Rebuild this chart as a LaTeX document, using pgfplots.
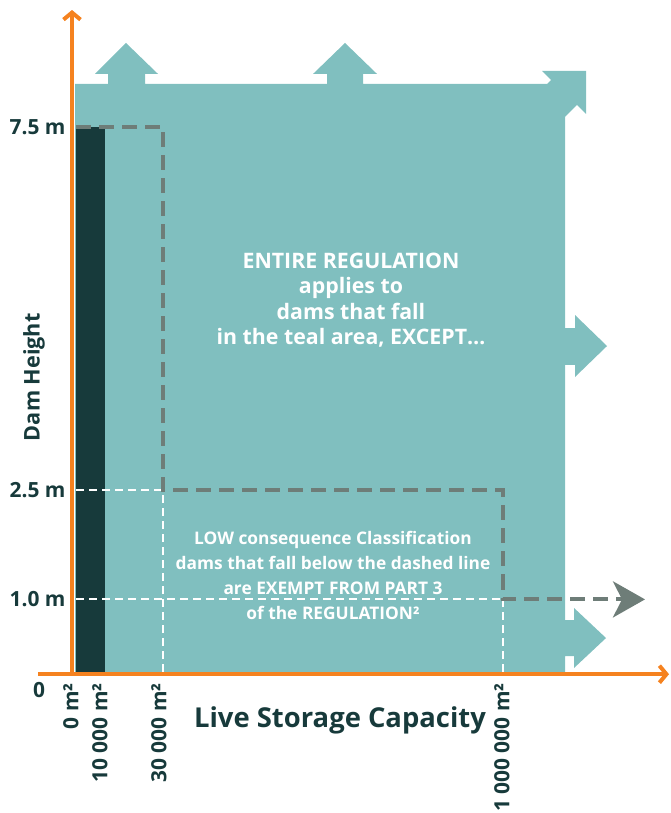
\documentclass[border=0pt]{standalone}
\usepackage{pgfplots}
\pgfplotsset{compat=1.18}
\usepackage{fontspec}
\setmainfont{Open Sans}
\usetikzlibrary{arrows.meta}

\definecolor{tealarea}{HTML}{80BFBF}
\definecolor{darkteal}{HTML}{173A3B}
\definecolor{axisorange}{HTML}{F5821F}
\definecolor{dashgray}{HTML}{6E7D78}

\begin{document}
\begin{tikzpicture}
\begin{axis}[
  x=1bp, y=72.6bp,
  xmin=-75, xmax=595, ymin=-1.942, ymax=9.256,
  hide axis, clip=false,
]
\coordinate (bl) at (axis cs:-75,-1.942);
\coordinate (tr) at (axis cs:595,9.256);

% teal area with the "extends" arrows
\addplot[fill=tealarea, draw=none] coordinates {
  (0,0) (0,8.099)
  (33,8.099) (33,8.237) (20,8.237) (51,8.664) (83,8.237) (70,8.237) (70,8.099)
  (252,8.099) (252,8.237) (238,8.237) (270,8.664) (302,8.237) (288,8.237) (288,8.099)
  (472,8.099) (476,8.154) (467,8.278) (511,8.278) (511,7.686) (502,7.810) (490,7.645)
  (490,4.738) (500,4.738) (500,4.917) (532,4.490) (500,4.063) (500,4.229) (490,4.229)
  (490,0.716) (499,0.716) (499,0.882) (531,0.468) (499,0.055) (499,0.220) (490,0.220)
  (490,0)
} -- cycle;

% 0 - 10 000 m2, up to 7.5 m
\addplot[fill=darkteal, draw=none] coordinates {(1,0) (1,7.5) (30,7.5) (30,0)} -- cycle;

% thin white guide lines
\addplot[white, line width=2bp, dash pattern=on 8bp off 5bp] coordinates {(1,2.5) (88,2.5)};
\addplot[white, line width=2bp, dash pattern=on 8bp off 5bp] coordinates {(1,1) (428,1)};
\addplot[white, line width=2bp, dash pattern=on 8bp off 5bp] coordinates {(88,0) (88,2.5)};
\addplot[white, line width=2bp, dash pattern=on 8bp off 5bp] coordinates {(428,0) (428,1)};

% exemption boundary
\addplot[dashgray, line width=4bp, dash pattern=on 15bp off 8bp,
  -{Stealth[length=32bp, width=36bp, inset=9bp]}]
  coordinates {(1,7.5) (88,7.5) (88,2.5) (428,2.5) (428,1) (570,1)};

% orange axes
\addplot[axisorange, line width=4bp, -{Straight Barb[length=7bp, width=17bp]}]
  coordinates {(-3,-0.03) (-3,9.118)};
\addplot[axisorange, line width=4bp, -{Straight Barb[length=7bp, width=17bp]}]
  coordinates {(-37,-0.03) (594,-0.03)};

% y labels
\node[anchor=east, text=darkteal, font={\fontsize{21}{25}\selectfont\bfseries}] at (axis cs:-6,7.5) {7.5 m};
\node[anchor=east, text=darkteal, font={\fontsize{21}{25}\selectfont\bfseries}] at (axis cs:-6,2.5) {2.5 m};
\node[anchor=east, text=darkteal, font={\fontsize{21}{25}\selectfont\bfseries}] at (axis cs:-6,1) {1.0 m};
\node[text=darkteal, font={\fontsize{21}{24}\selectfont\bfseries}] at (axis cs:-36,-0.248) {0};

% x labels
\node[anchor=east, rotate=90, text=darkteal, font={\fontsize{21}{25}\selectfont\bfseries}] at (axis cs:-4,-0.11) {0 m²};
\node[anchor=east, rotate=90, text=darkteal, font={\fontsize{21}{25}\selectfont\bfseries}] at (axis cs:25,-0.11) {10 000 m²};
\node[anchor=east, rotate=90, text=darkteal, font={\fontsize{21}{25}\selectfont\bfseries}] at (axis cs:84,-0.11) {30 000 m²};
\node[anchor=east, rotate=90, text=darkteal, font={\fontsize{21}{25}\selectfont\bfseries}] at (axis cs:427,-0.11) {1 000 000 m²};

% axis titles
\node[rotate=90, text=darkteal, font={\fontsize{21.7}{26}\selectfont\bfseries}] at (axis cs:-41,4.06) {Dam Height};
\node[text=darkteal, font={\fontsize{27.5}{32}\selectfont\bfseries}] at (axis cs:265,-0.661) {Live Storage Capacity};

% annotations
\node[align=center, text=white, font={\fontsize{21.4}{25.5}\selectfont\bfseries}] at (axis cs:276,5.124)
  {ENTIRE REGULATION\\applies to\\dams that fall\\in the teal area, EXCEPT…};
\node[align=center, text=white, font={\fontsize{17.4}{25}\selectfont\bfseries}] at (axis cs:258,1.329)
  {LOW consequence Classification\\dams that fall below the dashed line\\are EXEMPT FROM PART 3\\of the REGULATION²};
\end{axis}
\pgfresetboundingbox
\useasboundingbox (bl) rectangle (tr);
\end{tikzpicture}
\end{document}
